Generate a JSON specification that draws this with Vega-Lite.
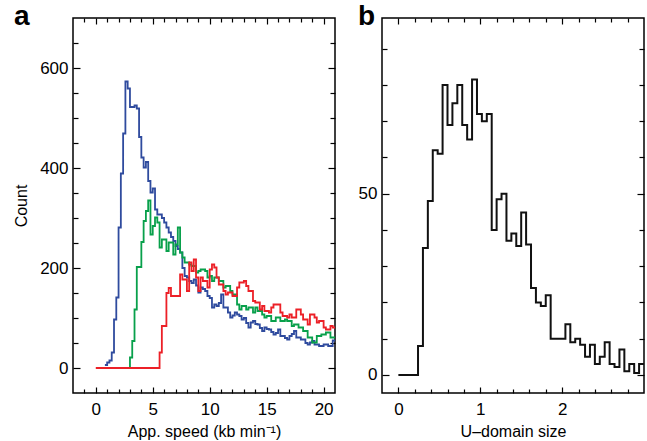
{
  "$schema": "https://vega.github.io/schema/vega-lite/v6.json",
  "padding": {"left": 12, "top": 2, "right": 2, "bottom": 2},
  "bounds": "flush",
  "spacing": 47,
  "config": {
    "font": "Liberation Sans",
    "view": {"stroke": "black", "strokeWidth": 1.5},
    "axis": {"labelFont": "Liberation Sans", "labelFontSize": 17, "labelColor": "black", "titleFont": "Liberation Sans", "titleFontSize": 16, "titleFontWeight": "normal", "titleColor": "black", "grid": false, "domain": false, "tickColor": "black", "tickWidth": 1.2}
  },
  "datasets": {
    "speed": [
      {"s":"blue","x":0.8,"y":6},{"s":"blue","x":1.0,"y":11},{"s":"blue","x":1.2,"y":15},{"s":"blue","x":1.4,"y":31},{"s":"blue","x":1.6,"y":97},{"s":"blue","x":1.8,"y":141},{"s":"blue","x":2.0,"y":281},{"s":"blue","x":2.2,"y":389},{"s":"blue","x":2.4,"y":469},{"s":"blue","x":2.6,"y":573},{"s":"blue","x":2.8,"y":559},{"s":"blue","x":3.0,"y":522},{"s":"blue","x":3.2,"y":522},{"s":"blue","x":3.4,"y":525},{"s":"blue","x":3.6,"y":519},{"s":"blue","x":3.8,"y":462},{"s":"blue","x":4.0,"y":421},{"s":"blue","x":4.2,"y":401},{"s":"blue","x":4.4,"y":412},{"s":"blue","x":4.6,"y":374},{"s":"blue","x":4.8,"y":351},{"s":"blue","x":5.0,"y":359},{"s":"blue","x":5.2,"y":317},{"s":"blue","x":5.4,"y":307},{"s":"blue","x":5.6,"y":307},{"s":"blue","x":5.8,"y":300},{"s":"blue","x":6.0,"y":291},{"s":"blue","x":6.2,"y":281},{"s":"blue","x":6.4,"y":271},{"s":"blue","x":6.6,"y":262},{"s":"blue","x":6.8,"y":254},{"s":"blue","x":7.0,"y":244},{"s":"blue","x":7.2,"y":238},{"s":"blue","x":7.4,"y":231},{"s":"blue","x":7.6,"y":200},{"s":"blue","x":7.8,"y":184},{"s":"blue","x":8.0,"y":181},{"s":"blue","x":8.2,"y":174},{"s":"blue","x":8.4,"y":170},{"s":"blue","x":8.6,"y":177},{"s":"blue","x":8.8,"y":165},{"s":"blue","x":9.0,"y":151},{"s":"blue","x":9.2,"y":161},{"s":"blue","x":9.4,"y":158},{"s":"blue","x":9.6,"y":154},{"s":"blue","x":9.8,"y":144},{"s":"blue","x":10.0,"y":140},{"s":"blue","x":10.2,"y":121},{"s":"blue","x":10.4,"y":127},{"s":"blue","x":10.6,"y":124},{"s":"blue","x":10.8,"y":130},{"s":"blue","x":11.0,"y":147},{"s":"blue","x":11.2,"y":121},{"s":"blue","x":11.4,"y":121},{"s":"blue","x":11.6,"y":111},{"s":"blue","x":11.8,"y":101},{"s":"blue","x":12.0,"y":105},{"s":"blue","x":12.2,"y":111},{"s":"blue","x":12.4,"y":107},{"s":"blue","x":12.6,"y":104},{"s":"blue","x":12.8,"y":97},{"s":"blue","x":13.0,"y":100},{"s":"blue","x":13.2,"y":90},{"s":"blue","x":13.4,"y":81},{"s":"blue","x":13.6,"y":91},{"s":"blue","x":13.8,"y":94},{"s":"blue","x":14.0,"y":88},{"s":"blue","x":14.2,"y":87},{"s":"blue","x":14.4,"y":80},{"s":"blue","x":14.6,"y":74},{"s":"blue","x":14.8,"y":81},{"s":"blue","x":15.0,"y":78},{"s":"blue","x":15.2,"y":77},{"s":"blue","x":15.4,"y":72},{"s":"blue","x":15.6,"y":67},{"s":"blue","x":15.8,"y":70},{"s":"blue","x":16.0,"y":77},{"s":"blue","x":16.2,"y":64},{"s":"blue","x":16.4,"y":64},{"s":"blue","x":16.6,"y":60},{"s":"blue","x":16.8,"y":57},{"s":"blue","x":17.0,"y":64},{"s":"blue","x":17.2,"y":68},{"s":"blue","x":17.4,"y":74},{"s":"blue","x":17.6,"y":61},{"s":"blue","x":17.8,"y":61},{"s":"blue","x":18.0,"y":57},{"s":"blue","x":18.2,"y":57},{"s":"blue","x":18.4,"y":50},{"s":"blue","x":18.6,"y":47},{"s":"blue","x":18.8,"y":51},{"s":"blue","x":19.0,"y":54},{"s":"blue","x":19.2,"y":47},{"s":"blue","x":19.4,"y":47},{"s":"blue","x":19.6,"y":44},{"s":"blue","x":19.8,"y":44},{"s":"blue","x":20.0,"y":47},{"s":"blue","x":20.2,"y":47},{"s":"blue","x":20.4,"y":44},{"s":"blue","x":20.6,"y":44},{"s":"blue","x":20.8,"y":55},{"s":"blue","x":21.0,"y":55},
      {"s":"green","x":2.8,"y":0},{"s":"green","x":3.0,"y":21},{"s":"green","x":3.2,"y":54},{"s":"green","x":3.4,"y":117},{"s":"green","x":3.6,"y":202},{"s":"green","x":3.8,"y":202},{"s":"green","x":4.0,"y":252},{"s":"green","x":4.2,"y":294},{"s":"green","x":4.4,"y":314},{"s":"green","x":4.6,"y":335},{"s":"green","x":4.8,"y":267},{"s":"green","x":5.0,"y":284},{"s":"green","x":5.2,"y":301},{"s":"green","x":5.4,"y":291},{"s":"green","x":5.6,"y":241},{"s":"green","x":5.8,"y":257},{"s":"green","x":6.0,"y":257},{"s":"green","x":6.2,"y":234},{"s":"green","x":6.4,"y":251},{"s":"green","x":6.6,"y":251},{"s":"green","x":6.8,"y":227},{"s":"green","x":7.0,"y":247},{"s":"green","x":7.2,"y":281},{"s":"green","x":7.4,"y":231},{"s":"green","x":7.6,"y":221},{"s":"green","x":7.8,"y":211},{"s":"green","x":8.0,"y":211},{"s":"green","x":8.2,"y":207},{"s":"green","x":8.4,"y":204},{"s":"green","x":8.6,"y":204},{"s":"green","x":8.8,"y":191},{"s":"green","x":9.0,"y":194},{"s":"green","x":9.2,"y":197},{"s":"green","x":9.4,"y":197},{"s":"green","x":9.6,"y":194},{"s":"green","x":9.8,"y":181},{"s":"green","x":10.0,"y":184},{"s":"green","x":10.2,"y":174},{"s":"green","x":10.4,"y":181},{"s":"green","x":10.6,"y":181},{"s":"green","x":10.8,"y":174},{"s":"green","x":11.0,"y":174},{"s":"green","x":11.2,"y":161},{"s":"green","x":11.4,"y":164},{"s":"green","x":11.6,"y":164},{"s":"green","x":11.8,"y":154},{"s":"green","x":12.0,"y":147},{"s":"green","x":12.2,"y":147},{"s":"green","x":12.4,"y":127},{"s":"green","x":12.6,"y":117},{"s":"green","x":12.8,"y":124},{"s":"green","x":13.0,"y":124},{"s":"green","x":13.2,"y":117},{"s":"green","x":13.4,"y":121},{"s":"green","x":13.6,"y":121},{"s":"green","x":13.8,"y":111},{"s":"green","x":14.0,"y":121},{"s":"green","x":14.2,"y":114},{"s":"green","x":14.4,"y":114},{"s":"green","x":14.6,"y":107},{"s":"green","x":14.8,"y":101},{"s":"green","x":15.0,"y":104},{"s":"green","x":15.2,"y":104},{"s":"green","x":15.4,"y":94},{"s":"green","x":15.6,"y":94},{"s":"green","x":15.8,"y":101},{"s":"green","x":16.0,"y":101},{"s":"green","x":16.2,"y":94},{"s":"green","x":16.4,"y":94},{"s":"green","x":16.6,"y":97},{"s":"green","x":16.8,"y":94},{"s":"green","x":17.0,"y":94},{"s":"green","x":17.2,"y":84},{"s":"green","x":17.4,"y":87},{"s":"green","x":17.6,"y":87},{"s":"green","x":17.8,"y":81},{"s":"green","x":18.0,"y":81},{"s":"green","x":18.2,"y":74},{"s":"green","x":18.4,"y":74},{"s":"green","x":18.6,"y":61},{"s":"green","x":18.8,"y":61},{"s":"green","x":19.0,"y":51},{"s":"green","x":19.2,"y":51},{"s":"green","x":19.4,"y":64},{"s":"green","x":19.6,"y":64},{"s":"green","x":19.8,"y":67},{"s":"green","x":20.0,"y":67},{"s":"green","x":20.2,"y":71},{"s":"green","x":20.4,"y":71},{"s":"green","x":20.6,"y":61},{"s":"green","x":20.8,"y":61},{"s":"green","x":21.0,"y":61},
      {"s":"red","x":0.0,"y":0},{"s":"red","x":5.6,"y":31},{"s":"red","x":5.8,"y":84},{"s":"red","x":6.0,"y":84},{"s":"red","x":6.2,"y":150},{"s":"red","x":6.4,"y":160},{"s":"red","x":6.6,"y":144},{"s":"red","x":6.8,"y":144},{"s":"red","x":7.0,"y":144},{"s":"red","x":7.2,"y":144},{"s":"red","x":7.4,"y":187},{"s":"red","x":7.6,"y":177},{"s":"red","x":7.8,"y":177},{"s":"red","x":8.0,"y":154},{"s":"red","x":8.2,"y":211},{"s":"red","x":8.4,"y":194},{"s":"red","x":8.6,"y":217},{"s":"red","x":8.8,"y":181},{"s":"red","x":9.0,"y":154},{"s":"red","x":9.2,"y":181},{"s":"red","x":9.4,"y":174},{"s":"red","x":9.6,"y":174},{"s":"red","x":9.8,"y":161},{"s":"red","x":10.0,"y":197},{"s":"red","x":10.2,"y":207},{"s":"red","x":10.4,"y":201},{"s":"red","x":10.6,"y":181},{"s":"red","x":10.8,"y":167},{"s":"red","x":11.0,"y":167},{"s":"red","x":11.2,"y":154},{"s":"red","x":11.4,"y":147},{"s":"red","x":11.6,"y":151},{"s":"red","x":11.8,"y":151},{"s":"red","x":12.0,"y":144},{"s":"red","x":12.2,"y":144},{"s":"red","x":12.4,"y":161},{"s":"red","x":12.6,"y":171},{"s":"red","x":12.8,"y":171},{"s":"red","x":13.0,"y":174},{"s":"red","x":13.2,"y":164},{"s":"red","x":13.4,"y":154},{"s":"red","x":13.6,"y":154},{"s":"red","x":13.8,"y":134},{"s":"red","x":14.0,"y":131},{"s":"red","x":14.2,"y":131},{"s":"red","x":14.4,"y":117},{"s":"red","x":14.6,"y":124},{"s":"red","x":14.8,"y":114},{"s":"red","x":15.0,"y":114},{"s":"red","x":15.2,"y":111},{"s":"red","x":15.4,"y":121},{"s":"red","x":15.6,"y":127},{"s":"red","x":15.8,"y":127},{"s":"red","x":16.0,"y":127},{"s":"red","x":16.2,"y":111},{"s":"red","x":16.4,"y":104},{"s":"red","x":16.6,"y":104},{"s":"red","x":16.8,"y":101},{"s":"red","x":17.0,"y":107},{"s":"red","x":17.2,"y":101},{"s":"red","x":17.4,"y":101},{"s":"red","x":17.6,"y":117},{"s":"red","x":17.8,"y":117},{"s":"red","x":18.0,"y":107},{"s":"red","x":18.2,"y":97},{"s":"red","x":18.4,"y":97},{"s":"red","x":18.6,"y":87},{"s":"red","x":18.8,"y":107},{"s":"red","x":19.0,"y":107},{"s":"red","x":19.2,"y":101},{"s":"red","x":19.4,"y":91},{"s":"red","x":19.6,"y":94},{"s":"red","x":19.8,"y":94},{"s":"red","x":20.0,"y":81},{"s":"red","x":20.2,"y":77},{"s":"red","x":20.4,"y":77},{"s":"red","x":20.6,"y":84},{"s":"red","x":20.8,"y":81},{"s":"red","x":21.0,"y":81}
    ],
    "udomain": [
      {"x":0.0,"y":0},{"x":0.24,"y":8},{"x":0.30,"y":35},{"x":0.36,"y":48},{"x":0.42,"y":62},{"x":0.48,"y":61},{"x":0.54,"y":80},{"x":0.60,"y":69},{"x":0.66,"y":75},{"x":0.72,"y":80},{"x":0.78,"y":69},{"x":0.84,"y":65},{"x":0.90,"y":81.5},{"x":0.96,"y":72},{"x":1.02,"y":70},{"x":1.08,"y":72},{"x":1.14,"y":40},{"x":1.20,"y":48.5},{"x":1.26,"y":50},{"x":1.32,"y":37},{"x":1.38,"y":39},{"x":1.44,"y":35.6},{"x":1.50,"y":44.8},{"x":1.56,"y":36},{"x":1.62,"y":24},{"x":1.68,"y":20},{"x":1.74,"y":19},{"x":1.80,"y":22},{"x":1.86,"y":10},{"x":1.92,"y":10},{"x":1.98,"y":10},{"x":2.04,"y":14},{"x":2.10,"y":9},{"x":2.16,"y":10},{"x":2.22,"y":8.3},{"x":2.28,"y":5},{"x":2.34,"y":8.3},{"x":2.40,"y":3},{"x":2.46,"y":5},{"x":2.52,"y":9},{"x":2.58,"y":3},{"x":2.64,"y":2.2},{"x":2.70,"y":7},{"x":2.76,"y":1},{"x":2.82,"y":3},{"x":2.88,"y":0.5},{"x":2.94,"y":3},{"x":3.00,"y":3}
    ]
  },
  "hconcat": [
    {
      "width": 262, "height": 375,
      "data": {"name": "speed"},
      "title": {"text": "a", "anchor": "start", "frame": "group", "dx": -59, "dy": 36, "offset": 0, "baseline": "alphabetic", "fontSize": 28, "fontWeight": "bold", "font": "Liberation Sans", "color": "black"},
      "layer": [
        {
          "mark": {"type": "line", "interpolate": "step-after", "strokeWidth": 1.8, "clip": true},
          "encoding": {
            "x": {"field": "x", "type": "quantitative", "scale": {"domain": [-2, 21], "nice": false, "zero": false},
                  "axis": {"orient": "bottom", "title": "App. speed (kb min⁻¹)", "values": [-1,0,1,2,3,4,5,6,7,8,9,10,11,12,13,14,15,16,17,18,19,20],
                           "labelExpr": "datum.value % 5 === 0 ? datum.label : ''",
                           "tickSize": {"condition": {"test": "datum.value % 5 === 0", "value": -6}, "value": -4}, "labelPadding": 14, "titlePadding": 6}},
            "y": {"field": "y", "type": "quantitative", "scale": {"domain": [-50, 700], "nice": false, "zero": false},
                  "axis": {"orient": "left", "title": "Count", "values": [0,50,100,150,200,250,300,350,400,450,500,550,600,650],
                           "labelExpr": "datum.value % 200 === 0 ? datum.label : ''",
                           "tickSize": {"condition": {"test": "datum.value % 200 === 0", "value": -7}, "value": -5}, "labelPadding": 12, "titlePadding": 10}},
            "color": {"field": "s", "type": "nominal", "scale": {"domain": ["blue", "green", "red"], "range": ["#2f4b9e", "#08a04b", "#ec2027"]}, "legend": null}
          }
        },
        {
          "mark": {"type": "line", "interpolate": "step-after", "strokeOpacity": 0},
          "encoding": {
            "x": {"field": "x", "type": "quantitative", "axis": {"orient": "top", "title": null, "labels": false, "minExtent": 0, "maxExtent": 0, "values": [-1,0,1,2,3,4,5,6,7,8,9,10,11,12,13,14,15,16,17,18,19,20],
                  "tickSize": {"condition": {"test": "datum.value % 5 === 0", "value": -6}, "value": -4}}},
            "y": {"field": "y", "type": "quantitative", "axis": {"orient": "right", "title": null, "labels": false, "minExtent": 0, "maxExtent": 0, "values": [0,50,100,150,200,250,300,350,400,450,500,550,600,650],
                  "tickSize": {"condition": {"test": "datum.value % 200 === 0", "value": -7}, "value": -5}}},
            "detail": {"field": "s"}
          }
        }
      ],
      "resolve": {"axis": {"x": "independent", "y": "independent"}}
    },
    {
      "width": 262, "height": 375,
      "data": {"name": "udomain"},
      "title": {"text": "b", "anchor": "start", "frame": "group", "dx": -24, "dy": 36, "offset": 0, "baseline": "alphabetic", "fontSize": 28, "fontWeight": "bold", "font": "Liberation Sans", "color": "black"},
      "layer": [
        {
          "mark": {"type": "line", "interpolate": "step-after", "strokeWidth": 2, "color": "#111111", "clip": true},
          "encoding": {
            "x": {"field": "x", "type": "quantitative", "scale": {"domain": [-0.2, 3.0], "nice": false, "zero": false},
                  "axis": {"orient": "bottom", "title": "U–domain size", "values": [0,0.2,0.4,0.6,0.8,1,1.2,1.4,1.6,1.8,2,2.2,2.4,2.6,2.8],
                           "labelExpr": "abs(datum.value - round(datum.value)) < 0.01 ? format(datum.value, 'd') : ''",
                           "tickSize": {"condition": {"test": "abs(datum.value - round(datum.value)) < 0.01", "value": -6}, "value": -4}, "labelPadding": 14, "titlePadding": 6}},
            "y": {"field": "y", "type": "quantitative", "scale": {"domain": [-5, 98.5], "nice": false, "zero": false},
                  "axis": {"orient": "left", "title": null, "values": [0,10,20,30,40,50,60,70,80,90],
                           "labelExpr": "datum.value % 50 === 0 ? datum.label : ''",
                           "tickSize": {"condition": {"test": "datum.value % 50 === 0", "value": -7}, "value": -5}, "labelPadding": 12}}
          }
        },
        {
          "mark": {"type": "line", "interpolate": "step-after", "strokeOpacity": 0},
          "encoding": {
            "x": {"field": "x", "type": "quantitative", "axis": {"orient": "top", "title": null, "labels": false, "minExtent": 0, "maxExtent": 0, "values": [0,0.2,0.4,0.6,0.8,1,1.2,1.4,1.6,1.8,2,2.2,2.4,2.6,2.8],
                  "tickSize": {"condition": {"test": "abs(datum.value - round(datum.value)) < 0.01", "value": -6}, "value": -4}}},
            "y": {"field": "y", "type": "quantitative", "axis": {"orient": "right", "title": null, "labels": false, "minExtent": 0, "maxExtent": 0, "values": [0,10,20,30,40,50,60,70,80,90],
                  "tickSize": {"condition": {"test": "datum.value % 50 === 0", "value": -7}, "value": -5}}}
          }
        }
      ],
      "resolve": {"axis": {"x": "independent", "y": "independent"}}
    }
  ]
}
